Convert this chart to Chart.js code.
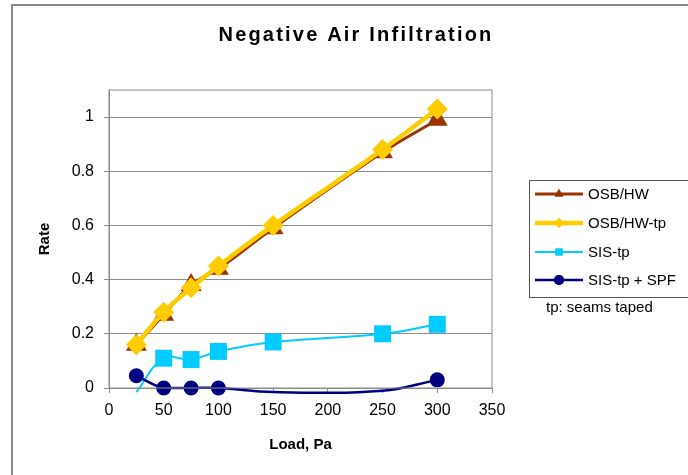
<!DOCTYPE html>
<html lang="en">
<head>
  <meta charset="UTF-8">
  <title>Negative Air Infiltration</title>
  <script src="https://cdn.jsdelivr.net/npm/chart.js"></script>
  <style>
    html, body {
      margin: 0;
      padding: 0;
      background: #fff;
    }
    #wrap {
      width: 688px;
      height: 475px;
    }
  </style>
</head>
<body>
  <div id="wrap"><canvas id="infChart" width="688" height="475"></canvas></div>

  <script>
    // values
    const loads = [25, 50, 75, 100, 150, 250, 300];
    const osbHw = [0.16, 0.27, 0.38, 0.44, 0.59, 0.87, 0.99];
    const osbHwTp = [0.16, 0.28, 0.37, 0.45, 0.60, 0.88, 1.03];
    const sisTp = [-0.015, 0.11, 0.105, 0.135, 0.17, 0.20, 0.235];
    const sisTpSpf = [0.045, 0, 0, 0, -0.015, -0.01, 0.03];
    const seriesNames = ['OSB/HW', 'OSB/HW-tp', 'SIS-tp', 'SIS-tp + SPF'];
    const xTicks = [0, 50, 100, 150, 200, 250, 300, 350];
    const yTicks = [0, 0.2, 0.4, 0.6, 0.8, 1];

    const FONT = "'Liberation Sans', Arial, sans-serif";

    function pts(ys) {
      return loads.map((x, i) => ({ x: x, y: ys[i] }));
    }

    // Excel hides markers that fall outside the plot area
    function rad(r) {
      return ctx => (ctx.raw && ctx.raw.y < 0 ? 0 : r);
    }

    function series(i, ys, color, width, style, r, order) {
      return {
        label: seriesNames[i],
        data: pts(ys),
        borderColor: color,
        backgroundColor: color,
        borderWidth: width,
        pointStyle: style,
        pointRadius: rad(r),
        pointBorderWidth: 0,
        tension: 0.4,
        clip: false,
        order: order
      };
    }

    const frame = {
      id: 'frame',
      afterDraw(chart) {
        const c = chart.ctx;
        const a = chart.chartArea;
        c.save();
        // outer chart border
        c.strokeStyle = '#8a8a8a';
        c.lineWidth = 2;
        c.strokeRect(12, 5, 720, 520);
        // plot border
        c.strokeStyle = '#8c8c8c';
        c.lineWidth = 1;
        c.strokeRect(a.left, a.top, a.right - a.left, a.bottom - a.top);
        // title
        c.fillStyle = '#000';
        c.font = 'bold 20px ' + FONT;
        c.letterSpacing = '2.2px';
        c.textAlign = 'center';
        c.textBaseline = 'middle';
        c.fillText('Negative Air Infiltration', 356, 35);
        c.letterSpacing = '0px';
        // legend
        c.strokeStyle = '#555';
        c.lineWidth = 1;
        c.strokeRect(529.5, 180.5, 200, 117);
        c.font = '15px ' + FONT;
        c.textAlign = 'left';
        const ys = [194, 223, 252, 280];
        chart.data.datasets.forEach((ds, i) => {
          const y = ys[i];
          c.strokeStyle = ds.borderColor;
          c.lineWidth = ds.borderWidth;
          c.beginPath();
          c.moveTo(535, y);
          c.lineTo(583, y);
          c.stroke();
          c.fillStyle = ds.borderColor;
          Chart.helpers.drawPoint(c, { pointStyle: ds.pointStyle, radius: 5, borderWidth: 0 }, 559, y);
          c.fill();
          c.fillStyle = '#000';
          c.fillText(ds.label, 588, y + 1);
        });
        c.fillText('tp: seams taped', 546, 308);
        c.restore();
      }
    };

    new Chart(document.getElementById('infChart'), {
      type: 'line',
      data: {
        datasets: [
          series(0, osbHw, '#993300', 3, 'triangle', 12, 4),
          series(1, osbHwTp, '#ffcc00', 4.5, 'rectRot', 10.5, 3),
          series(2, sisTp, '#00ccff', 2, 'rect', 12, 2),
          series(3, sisTpSpf, '#000080', 2.5, 'circle', 7.5, 1)
        ]
      },
      options: {
        responsive: false,
        animation: false,
        layout: { padding: { left: 12, top: 90, right: 196, bottom: 0 } },
        plugins: {
          legend: { display: false },
          tooltip: { enabled: false }
        },
        scales: {
          x: {
            type: 'linear',
            min: 0,
            max: 350,
            afterFit: s => { s.height = 87; },
            afterBuildTicks: s => { s.ticks = xTicks.map(v => ({ value: v })); },
            grid: { drawOnChartArea: false, color: '#8c8c8c', tickLength: 5 },
            border: { color: '#8c8c8c' },
            ticks: { color: '#000', font: { family: FONT, size: 16 }, padding: 8, maxRotation: 0 },
            title: {
              display: true,
              text: 'Load, Pa',
              color: '#000',
              font: { family: FONT, size: 15, weight: 'bold' },
              padding: { top: 0, bottom: 21 }
            }
          },
          y: {
            min: 0,
            max: 1.1,
            afterFit: s => { s.width = 97; },
            afterBuildTicks: s => { s.ticks = yTicks.map(v => ({ value: v })); },
            grid: { color: '#8c8c8c', tickLength: 5 },
            border: { color: '#8c8c8c' },
            ticks: {
              color: '#000',
              font: { family: FONT, size: 16 },
              padding: 10,
              callback: v => String(Math.round(v * 10) / 10)
            },
            title: {
              display: true,
              text: 'Rate',
              color: '#000',
              font: { family: FONT, size: 15, weight: 'bold' },
              padding: { top: 24, bottom: 0 }
            }
          }
        }
      },
      plugins: [frame]
    });
  </script>
</body>
</html>
